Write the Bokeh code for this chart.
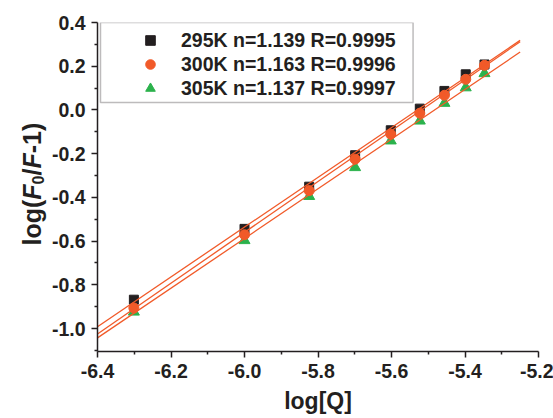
import numpy as np
from bokeh.plotting import figure
from bokeh.layouts import row
from bokeh.models import Range1d, FixedTicker, Legend, LegendItem, Label, BoxAnnotation
from bokeh.embed import file_html
from bokeh.resources import INLINE

# ---- data ----
log_q = [-6.301, -6.000, -5.824, -5.699, -5.602, -5.523, -5.456, -5.398, -5.347]
y_295 = [-0.868, -0.544, -0.351, -0.207, -0.093, 0.006, 0.087, 0.163, 0.208]
y_300 = [-0.906, -0.571, -0.369, -0.225, -0.111, -0.015, 0.067, 0.140, 0.204]
y_305 = [-0.924, -0.597, -0.395, -0.263, -0.141, -0.050, 0.031, 0.102, 0.167]
series_labels = ["295K n=1.139 R=0.9995", "300K n=1.163 R=0.9996", "305K n=1.137 R=0.9997"]
fit_slopes = [1.139, 1.163, 1.137]
fit_intercepts = [6.298, 6.418, 6.234]
fit_x = [-6.4, -5.25]
x_ticks = [-6.4, -6.2, -6.0, -5.8, -5.6, -5.4, -5.2]
x_tick_labels = ["-6.4", "-6.2", "-6.0", "-5.8", "-5.6", "-5.4", "-5.2"]
y_ticks = [-1.0, -0.8, -0.6, -0.4, -0.2, 0.0, 0.2, 0.4]
y_tick_labels = ["-1.0", "-0.8", "-0.6", "-0.4", "-0.2", "0.0", "0.2", "0.4"]
x_label = "log[Q]"
# y label "log(F0/F-1)": (text, style, is_subscript)
y_label_parts = [("log(", "bold", False), ("F", "bold italic", False), ("0", "bold", True),
                 ("/", "bold", False), ("F", "bold italic", False), ("-1)", "bold", False)]

# ---- styles / layout ----
FONT = "Liberation Sans"
INK = "#231F20"
ORANGE = "#F15A29"
GREEN = "#2BB24C"
W, H = 553, 418
LAB_W = 48
FL, FT, FR, FB = 95, 22, 15, 67          # frame borders in page pixels
X0, X1 = -6.4, -5.2
Y0, Y1 = -1.105, 0.4

p = figure(width=W - LAB_W, height=H, output_backend="svg", toolbar_location=None,
           x_range=Range1d(X0, X1), y_range=Range1d(Y0, Y1),
           min_border_left=FL - LAB_W, min_border_top=FT, min_border_right=FR,
           min_border_bottom=FB)
p.outline_line_color = None
p.grid.visible = False

def mids(t):
    return [(a + b) / 2 for a, b in zip(t, t[1:])]

p.xaxis.ticker = FixedTicker(ticks=x_ticks, minor_ticks=mids(x_ticks))
p.yaxis.ticker = FixedTicker(ticks=y_ticks, minor_ticks=mids(y_ticks) + [-1.1])
p.xaxis.major_label_overrides = dict(zip(x_ticks, x_tick_labels))
p.yaxis.major_label_overrides = dict(zip(y_ticks, y_tick_labels))

for ax in (p.xaxis[0], p.yaxis[0]):
    ax.axis_line_color = INK
    ax.axis_line_width = 1.5
    ax.major_tick_line_color = INK
    ax.major_tick_line_width = 1.5
    ax.minor_tick_line_color = INK
    ax.minor_tick_line_width = 1.5
    ax.major_tick_in = 0
    ax.major_tick_out = 6
    ax.minor_tick_in = 0
    ax.minor_tick_out = 3
    ax.major_label_text_font = FONT
    ax.major_label_text_font_style = "bold"
    ax.major_label_text_font_size = "19.5px"
    ax.major_label_text_color = INK
    ax.major_label_standoff = 6

p.xaxis.axis_label = x_label
p.xaxis.axis_label_text_font = FONT
p.xaxis.axis_label_text_font_style = "bold"
p.xaxis.axis_label_text_font_size = "23px"
p.xaxis.axis_label_text_color = INK
p.xaxis.axis_label_standoff = 7

# ---- markers and fitted lines ----
r295 = p.scatter(log_q, y_295, marker="square", size=9, color=INK)
r305 = p.scatter(log_q, y_305, marker="triangle", size=11, color=GREEN)
r300 = p.scatter(log_q, y_300, marker="circle", size=10, color=ORANGE)

fx = np.array(fit_x)
for m, b in zip(fit_slopes, fit_intercepts):
    p.line(fx, m * fx + b, line_color=ORANGE, line_width=1.3)

# ---- legend: framed box + items ----
fw = W - FL - FR
fh = H - FT - FB
ux = (X1 - X0) / fw
uy = (Y1 - Y0) / fh
box = BoxAnnotation(left=X0 + 3 * ux, right=X0 + 317 * ux, top=Y1, bottom=Y1 - 80 * uy,
                    fill_color="white", fill_alpha=1.0, line_color=INK, line_width=1.5)
p.add_layout(box)

legend = Legend(items=[LegendItem(label=series_labels[0], renderers=[r295]),
                       LegendItem(label=series_labels[1], renderers=[r300]),
                       LegendItem(label=series_labels[2], renderers=[r305])],
                location=(33, fh - 1 - 82 + 5), margin=0, padding=5, spacing=0,
                glyph_width=40, glyph_height=24, label_height=24,
                label_standoff=11,
                label_text_font=FONT, label_text_font_style="bold",
                label_text_font_size="19.5px", label_text_color=INK,
                border_line_color=None, background_fill_alpha=0.0)
p.add_layout(legend)

# ---- y axis label in its own strip (italic F, subscript 0) ----
lab = figure(width=LAB_W, height=H, output_backend="svg", toolbar_location=None,
             x_range=Range1d(0, LAB_W), y_range=Range1d(Y0, Y1),
             x_axis_type=None, y_axis_type=None,
             min_border_left=0, min_border_right=0, min_border_top=FT, min_border_bottom=FB)
lab.outline_line_color = None
lab.grid.visible = False
lab.title.visible = False

ADV = {"l": 0.278, "o": 0.611, "g": 0.611, "(": 0.333, ")": 0.333, "F": 0.611,
       "0": 0.556, "/": 0.278, "-": 0.333, "1": 0.556}
SIZE, SUB = 25, 16
mid_x = 31                    # horizontal centre of the label line (page px)
pos_px = 245                  # page y where the label starts (bottom end)
for txt, style, is_sub in y_label_parts:
    size = SUB if is_sub else SIZE
    cx = mid_x + (0.35 * SIZE - 0.35 * SUB + 3 if is_sub else 0)
    lab.add_layout(Label(x=cx, y=Y1 - (pos_px - FT) * uy, text=txt,
                         angle=np.pi / 2, text_font=FONT, text_font_style=style,
                         text_font_size=f"{size}px", text_color=INK,
                         text_align="left", text_baseline="middle"))
    pos_px -= sum(ADV[c] for c in txt) * size

layout = row(lab, p)
open("out.html", "w").write(file_html(layout, INLINE))
